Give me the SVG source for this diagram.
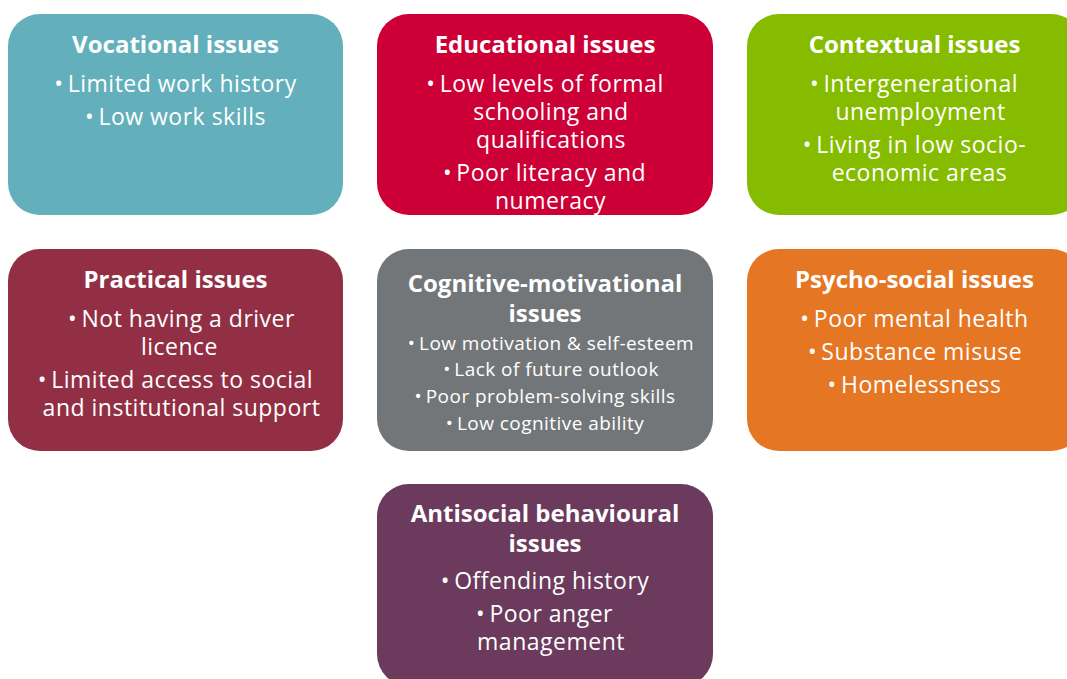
<svg xmlns="http://www.w3.org/2000/svg" width="1067" height="679" viewBox="0 0 1067 679">
  <style>
    .box { stroke: none; }
    .title { font-family: "Open Sans", "Liberation Sans", sans-serif; font-weight: bold; font-size: 24px; fill: #ffffff; text-anchor: middle; }
    .item { font-family: "Open Sans", "Liberation Sans", sans-serif; font-size: 23px; letter-spacing: 0.5px; fill: #ffffff; text-anchor: middle; }
    .small { font-family: "Open Sans", "Liberation Sans", sans-serif; font-size: 19px; letter-spacing: 0.45px; fill: #ffffff; text-anchor: middle; }
  </style>
  <rect width="1067" height="679" fill="#ffffff"/>

  <!-- Each bullet is one text element; wrapped continuation lines are tspans -->
  <g id="vocational">
    <rect class="box" x="8" y="14" width="335" height="201" rx="32" fill="#63b0bc"/>
    <text class="title" x="175.5" y="53">Vocational issues</text>
    <text class="item" x="175.5" y="92">•&#8201;Limited work history</text>
    <text class="item" x="175.5" y="125">•&#8201;Low work skills</text>
  </g>

  <g id="educational">
    <rect class="box" x="377" y="14" width="336" height="201" rx="32" fill="#cc0037"/>
    <text class="title" x="545" y="53">Educational issues</text>
    <text class="item"><tspan x="545" y="92">•&#8201;Low levels of formal</tspan><tspan x="551" y="120">schooling and</tspan><tspan x="551" y="148">qualifications</tspan></text>
    <text class="item"><tspan x="544.5" y="181">•&#8201;Poor literacy and</tspan><tspan x="550.5" y="209">numeracy</tspan></text>
  </g>

  <g id="contextual">
    <rect class="box" x="747" y="14" width="336" height="201" rx="32" fill="#85bc00"/>
    <text class="title" x="914.5" y="53">Contextual issues</text>
    <text class="item"><tspan x="914" y="92">•&#8201;Intergenerational</tspan><tspan x="920.5" y="120">unemployment</tspan></text>
    <text class="item"><tspan x="914.5" y="153">•&#8201;Living in low socio-</tspan><tspan x="919.5" y="181">economic areas</tspan></text>
  </g>

  <g id="practical">
    <rect class="box" x="8" y="249" width="335" height="202" rx="32" fill="#922f45"/>
    <text class="title" x="175.5" y="288">Practical issues</text>
    <text class="item"><tspan x="181.5" y="327">•&#8201;Not having a driver</tspan><tspan x="179.5" y="355">licence</tspan></text>
    <text class="item"><tspan x="175.5" y="388">•&#8201;Limited access to social</tspan><tspan x="181.5" y="416">and institutional support</tspan></text>
  </g>

  <g id="cognitive">
    <rect class="box" x="377" y="249" width="336" height="202" rx="32" fill="#737678"/>
    <text class="title"><tspan x="545" y="292">Cognitive-motivational</tspan><tspan x="545" y="322">issues</tspan></text>
    <text class="small" x="551" y="350">•&#8201;Low motivation &amp; self-esteem</text>
    <text class="small" x="551" y="376">•&#8201;Lack of future outlook</text>
    <text class="small" x="545" y="403">•&#8201;Poor problem-solving skills</text>
    <text class="small" x="545" y="430">•&#8201;Low cognitive ability</text>
  </g>

  <g id="psychosocial">
    <rect class="box" x="747" y="249" width="336" height="202" rx="32" fill="#e57624"/>
    <text class="title" x="914.5" y="288">Psycho-social issues</text>
    <text class="item" x="914.5" y="327">•&#8201;Poor mental health</text>
    <text class="item" x="915" y="360">•&#8201;Substance misuse</text>
    <text class="item" x="914.5" y="393">•&#8201;Homelessness</text>
  </g>

  <g id="antisocial">
    <rect class="box" x="377" y="484" width="336" height="202" rx="32" fill="#6b3a5c"/>
    <text class="title"><tspan x="545" y="522">Antisocial behavioural</tspan><tspan x="545" y="552">issues</tspan></text>
    <text class="item" x="545" y="589">•&#8201;Offending history</text>
    <text class="item"><tspan x="544.5" y="622">•&#8201;Poor anger</tspan><tspan x="551" y="650">management</tspan></text>
  </g>

  <g id="connectors"></g>
</svg>
